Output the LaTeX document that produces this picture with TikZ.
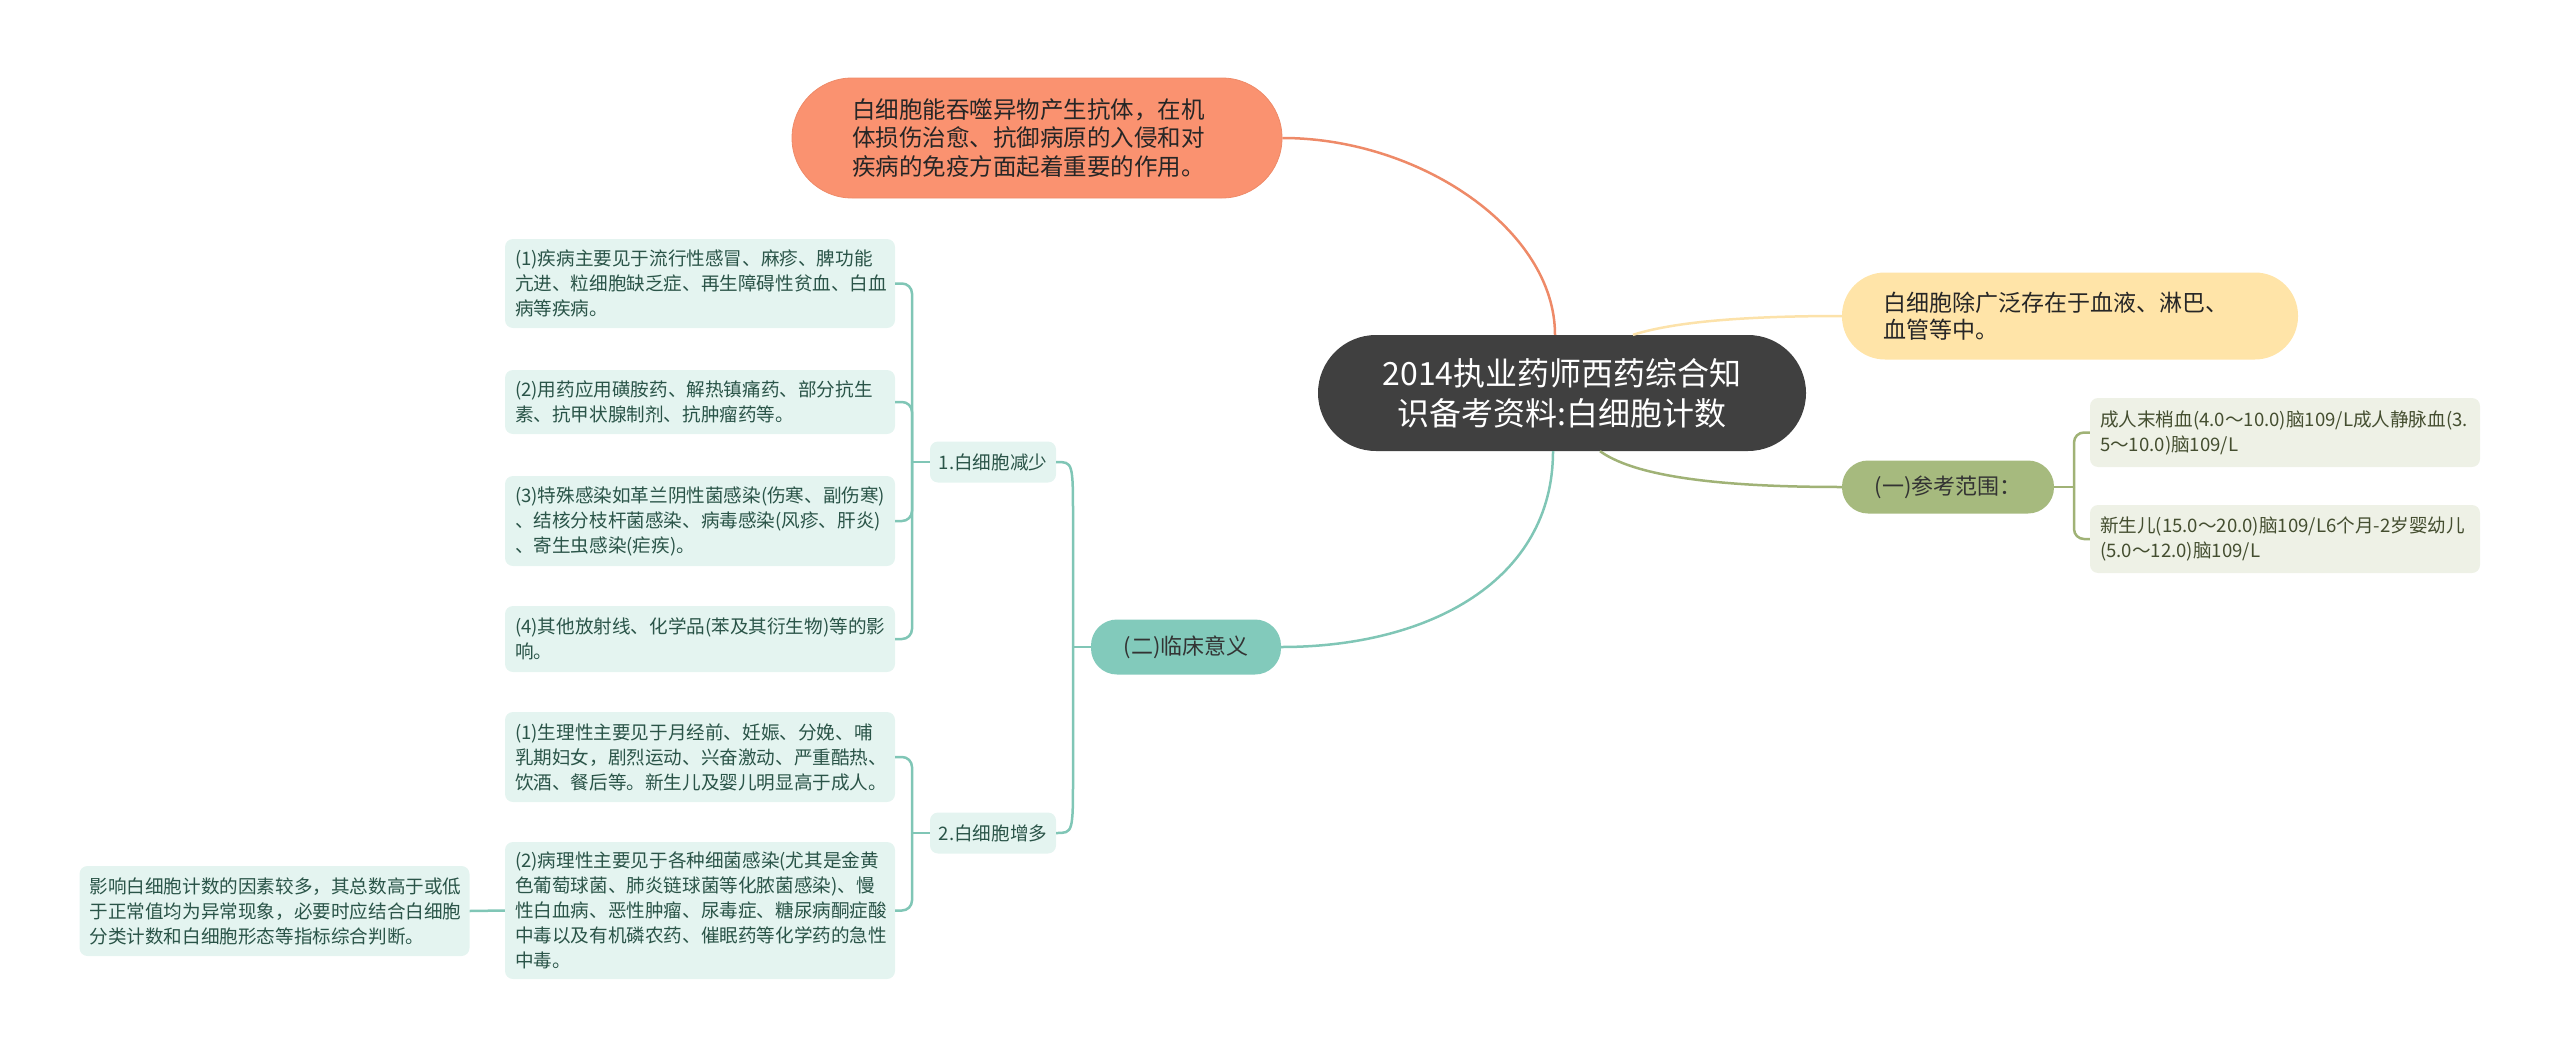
\documentclass[tikz,border=0pt]{standalone}
\usepackage{fontspec}
\setmainfont{Noto Sans CJK SC}
\usepackage{xcolor}
\usepackage{tikz}
\usetikzlibrary{positioning,calc}
\definecolor{rootgray}{RGB}{64,64,64}
\definecolor{salmon}{RGB}{250,146,112}
\definecolor{salmonln}{RGB}{238,138,104}
\definecolor{sand}{RGB}{255,228,168}
\definecolor{sandln}{RGB}{252,226,170}
\definecolor{olive}{RGB}{166,186,126}
\definecolor{oliveln}{RGB}{160,178,118}
\definecolor{oliveleaf}{RGB}{238,241,230}
\definecolor{olivetext}{RGB}{68,78,48}
\definecolor{tealmain}{RGB}{130,202,187}
\definecolor{tealln}{RGB}{128,198,182}
\definecolor{tealleaf}{RGB}{228,244,240}
\definecolor{tealtext}{RGB}{42,84,72}

\begin{document}
\begin{tikzpicture}[x=1pt,y=-1pt,
  root/.style={fill=rootgray,text=white,rounded corners=58pt,minimum width=488pt,
              minimum height=116pt,align=center,inner sep=0pt,
              font=\fontsize{32}{40}\selectfont},
  side/.style={rounded corners=#1,inner sep=0pt,align=left,text=black!85,
              font=\fontsize{23.5}{28.5}\selectfont},
  main/.style={rounded corners=26pt,minimum height=53pt,inner sep=0pt,
              text=black!80,font=\fontsize{22}{26}\selectfont},
  leaf/.style={fill=tealleaf,text=tealtext,rounded corners=8pt,text width=370pt,
              inner xsep=10pt,inner ysep=0pt,align=left,
              font=\fontsize{18.6}{25}\selectfont},
  rleaf/.style={leaf,fill=oliveleaf,text=olivetext},
  sub/.style={fill=tealleaf,text=tealtext,rounded corners=8pt,minimum width=126pt,
              minimum height=41pt,inner sep=0pt,font=\fontsize{18.6}{25}\selectfont},
  tline/.style={draw=tealln,line width=2.5pt},
  oline/.style={draw=oliveln,line width=2.5pt}]
\useasboundingbox (0,0) rectangle (2560,1060);

\node[root] (root) at (1562,393) {2014执业药师西药综合知\\识备考资料:白细胞计数};
\node[side=60pt,fill=salmon,draw=salmonln,line width=0.8pt,text width=370pt,
   minimum width=490pt,minimum height=120pt] (top) at (1037,138)
   {白细胞能吞噬异物产生抗体，在机\\体损伤治愈、抗御病原的入侵和对\\疾病的免疫方面起着重要的作用。};
\node[side=43pt,fill=sand,text width=374pt,minimum width=456pt,minimum height=87pt,
   font=\fontsize{23}{27}\selectfont] (yel) at (2070,316)
   {白细胞除广泛存在于血液、淋巴、\\血管等中。};
\node[main,fill=olive,minimum width=212pt] (ref) at (1948,487) {(一)参考范围：};
\node[rleaf,minimum height=69pt] (r1) at (2285,432.5)
   {成人末梢血(4.0～10.0)脑109/L成人静脉血(3.\\5～10.0)脑109/L};
\node[rleaf,minimum height=68pt] (r2) at (2285,539)
   {新生儿(15.0～20.0)脑109/L6个月-2岁婴幼儿\\(5.0～12.0)脑109/L};

\node[main,fill=tealmain,minimum width=190pt,minimum height=55pt] (clin) at (1186,647)
   {(二)临床意义};
\node[sub] (b1) at (993,462) {1.白细胞减少};
\node[sub] (b2) at (993,833) {2.白细胞增多};
\node[leaf,minimum height=89pt] (L1) at (700,283.5)
   {(1)疾病主要见于流行性感冒、麻疹、脾功能\\亢进、粒细胞缺乏症、再生障碍性贫血、白血\\病等疾病。};
\node[leaf,minimum height=64pt] (L2) at (700,402)
   {(2)用药应用磺胺药、解热镇痛药、部分抗生\\素、抗甲状腺制剂、抗肿瘤药等。};
\node[leaf,minimum height=90pt] (L3) at (700,521)
   {(3)特殊感染如革兰阴性菌感染(伤寒、副伤寒)\\、结核分枝杆菌感染、病毒感染(风疹、肝炎)\\、寄生虫感染(疟疾)。};
\node[leaf,minimum height=66pt] (L4) at (700,639)
   {(4)其他放射线、化学品(苯及其衍生物)等的影\\响。};
\node[leaf,minimum height=90pt] (L5) at (700,757)
   {(1)生理性主要见于月经前、妊娠、分娩、哺\\乳期妇女，剧烈运动、兴奋激动、严重酷热、\\饮酒、餐后等。新生儿及婴儿明显高于成人。};
\node[leaf,minimum height=137pt] (L6) at (700,910.5)
   {(2)病理性主要见于各种细菌感染(尤其是金黄\\色葡萄球菌、肺炎链球菌等化脓菌感染)、慢\\性白血病、恶性肿瘤、尿毒症、糖尿病酮症酸\\中毒以及有机磷农药、催眠药等化学药的急性\\中毒。};
\node[leaf,minimum height=90pt] (far) at (274.5,911)
   {影响白细胞计数的因素较多，其总数高于或低\\于正常值均为异常现象，必要时应结合白细胞\\分类计数和白细胞形态等指标综合判断。};

\coordinate (s1) at (912,462);
\coordinate (s2) at (912,833);
\coordinate (sm) at (1073,647);
\coordinate (so) at (2074,487);

\draw[draw=salmonln,line width=2.5pt] ([xshift=-7pt]root.north)
   .. controls (1555,230) and (1420,138) .. (top.east);
\draw[draw=sandln,line width=2.5pt] ([xshift=71pt]root.north)
   .. controls (1680,320) and (1760,316) .. (yel.west);
\draw[oline] ([xshift=38pt]root.south)
   .. controls (1640,480) and (1740,487) .. (ref.west);
\draw[tline] ([xshift=-9pt]root.south)
   .. controls (1553,580) and (1430,647) .. (clin.east);

\draw[oline] (ref.east) -- (so);
\foreach \n in {r1,r2}
  \draw[oline,rounded corners=10pt] (\n.west) -| (so);

\draw[tline] (sm) -- (clin.west);
\draw[tline] (b1.east) .. controls (1073,462) .. (1073,520) -- (1073,775)
   .. controls (1073,833) .. (b2.east);
\draw[tline] (s1) -- (b1.west);
\draw[tline] (s2) -- (b2.west);
\foreach \n in {L1,L2,L3,L4}
  \draw[tline,rounded corners=10pt] (\n.east) -| (s1);
\foreach \n in {L5,L6}
  \draw[tline,rounded corners=10pt] (\n.east) -| (s2);
\draw[tline] (L6.west) -- (far.east);
\end{tikzpicture}
\end{document}
